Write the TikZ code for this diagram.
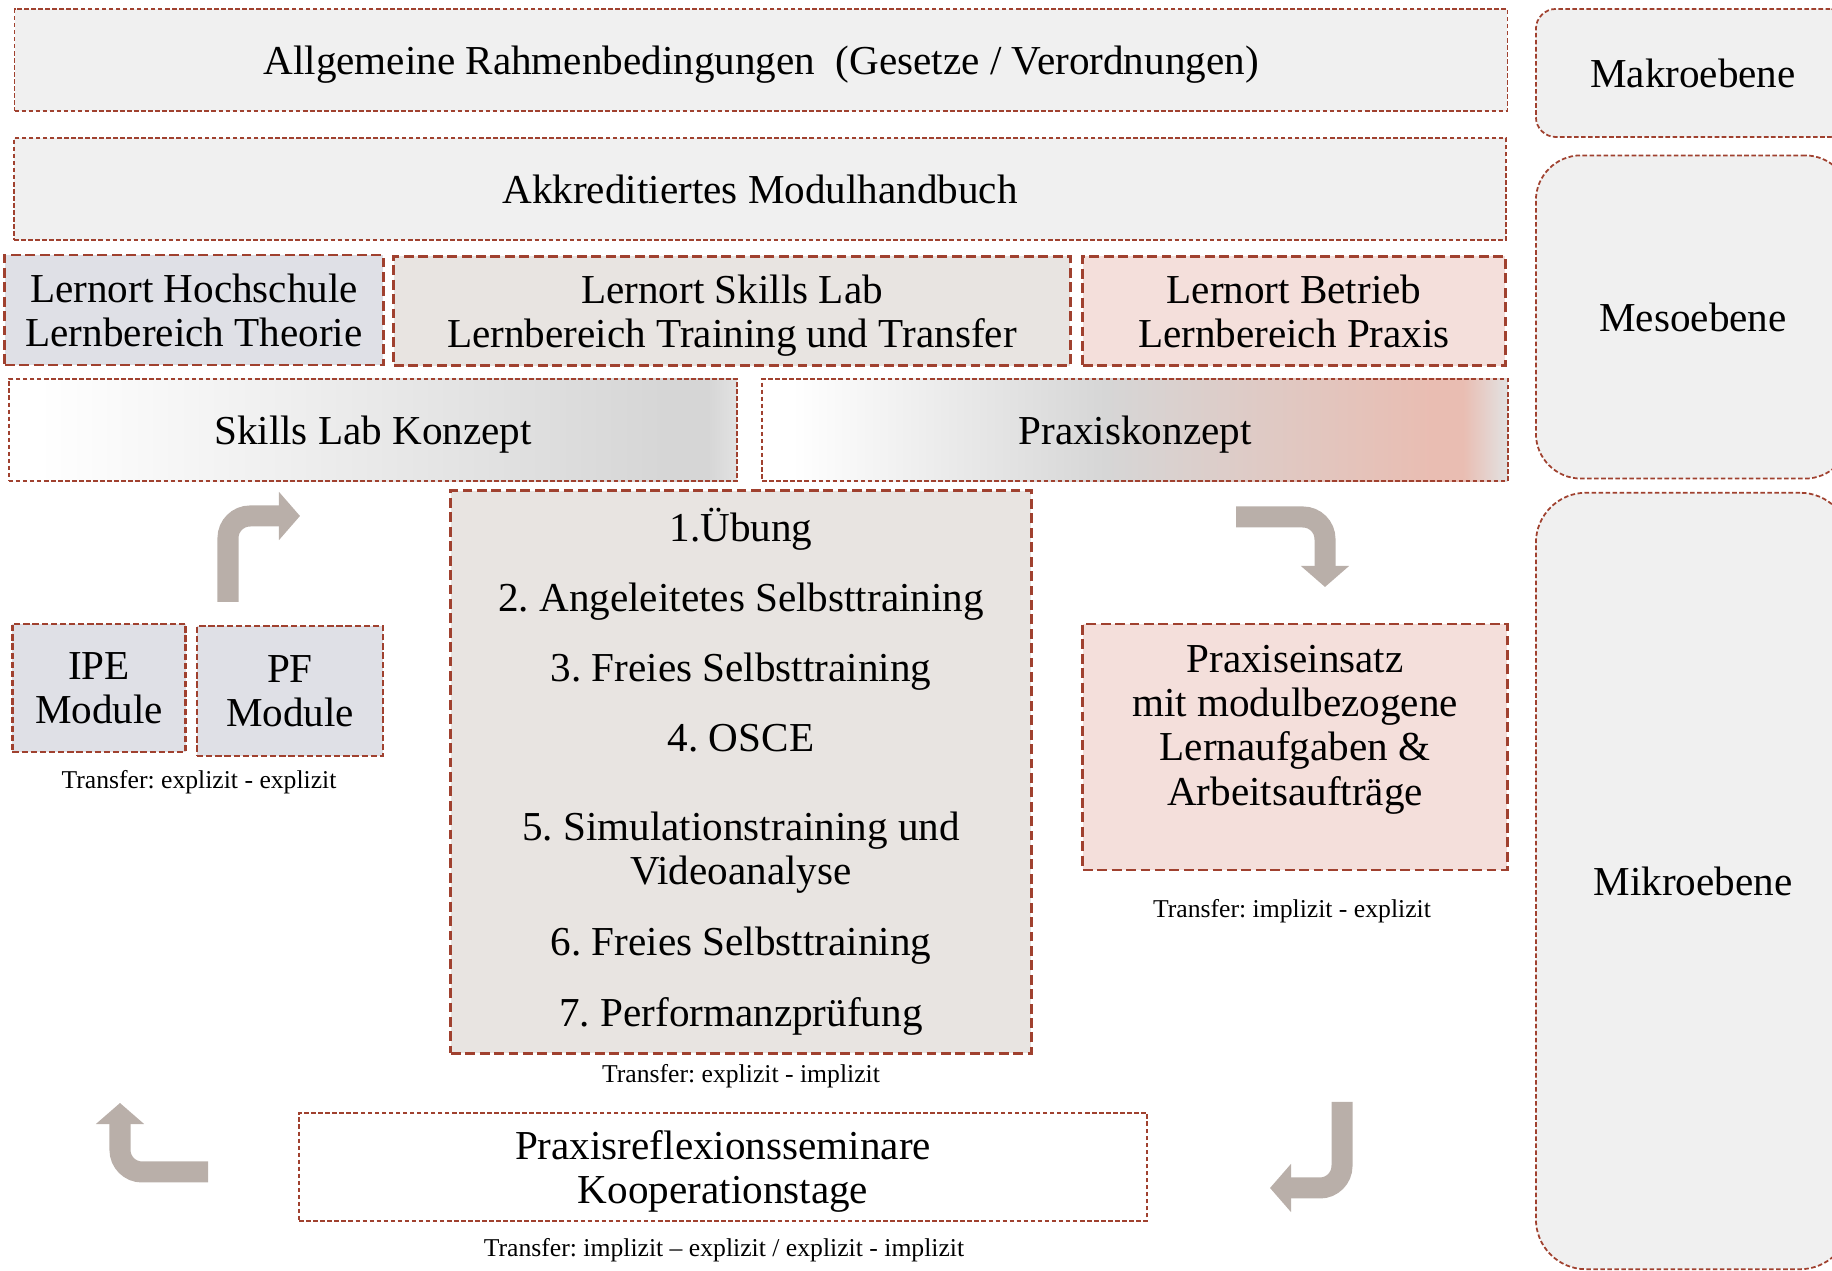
\documentclass[tikz,border=0pt]{standalone}
\usepackage{fontspec}
\setmainfont{Liberation Serif}
\usepackage{tikz}
\usetikzlibrary{arrows.meta}
\frenchspacing
\definecolor{rahmenrot}{HTML}{A0412F}
\definecolor{hellgrau}{HTML}{F0F0F0}
\definecolor{blaugrau}{HTML}{DFE0E6}
\definecolor{warmgrau}{HTML}{E8E4E1}
\definecolor{rosa}{HTML}{F4DFDB}
\definecolor{pfeilgrau}{HTML}{B9AFA9}
\definecolor{verlaufgrau}{HTML}{D6D6D6}
\definecolor{verlaufhell}{HTML}{E2E2E2}
\definecolor{verlaufrosa}{HTML}{E9BDB2}
\pgfdeclarehorizontalshading{skillsverlauf}{100bp}{color(0bp)=(white); color(27bp)=(white); color(70bp)=(verlaufgrau); color(73bp)=(verlaufgrau); color(75bp)=(verlaufhell); color(100bp)=(verlaufhell)}
\pgfdeclarehorizontalshading{praxisverlauf}{100bp}{color(0bp)=(white); color(27bp)=(white); color(48bp)=(verlaufgrau); color(70bp)=(verlaufrosa); color(72bp)=(verlaufrosa); color(75bp)=(verlaufhell); color(100bp)=(verlaufhell)}

\begin{document}
\begin{tikzpicture}[x=0.01cm,y=-0.01cm,font=\fontsize{11.7}{12.6}\selectfont,
    dunnbox/.style={draw=rahmenrot,line width=0.5pt,dash pattern=on 1.3pt off 0.7pt,align=center,inner sep=0pt,text depth=0pt},
    dickbox/.style={draw=rahmenrot,line width=0.8pt,dash pattern=on 2.8pt off 1.3pt,align=center,inner sep=0pt,text depth=0pt},
    ebene/.style={dunnbox,fill=hellgrau,minimum width=3.14cm},
    transfer/.style={font=\fontsize{7.3}{8.8}\selectfont,text depth=0pt},
    bigarrow/.style={draw=pfeilgrau,line width=0.21cm,rounded corners=0.22cm,-{Triangle[length=0.21cm,width=0.47cm]}}]
    \useasboundingbox (0,0) rectangle (1832,1271);
    \clip (0,0) rectangle (1832,1271);

    \node[dunnbox,fill=hellgrau,minimum width=14.92cm,minimum height=1.02cm] (rahmen) at (761,60) {Allgemeine Rahmenbedingungen\ \ (Gesetze / Verordnungen)};
    \node[dunnbox,fill=hellgrau,minimum width=14.91cm,minimum height=1.02cm] (modul) at (760,189) {Akkreditiertes Modulhandbuch};

    \node[dickbox,fill=blaugrau,minimum width=3.78cm,minimum height=1.10cm] (hochschule) at (194,310) {Lernort Hochschule\\Lernbereich Theorie};
    \node[dickbox,fill=warmgrau,minimum width=6.76cm,minimum height=1.09cm] (skillslab) at (732,311) {Lernort Skills Lab\\Lernbereich Training und Transfer};
    \node[dickbox,fill=rosa,minimum width=4.22cm,minimum height=1.09cm] (betrieb) at (1294,311) {Lernort Betrieb\\Lernbereich Praxis};

    \node[dunnbox,shading=skillsverlauf,minimum width=7.28cm,minimum height=1.02cm] (slkonzept) at (373,430) {Skills Lab Konzept};
    \node[dunnbox,shading=praxisverlauf,minimum width=7.45cm,minimum height=1.02cm] (pkonzept) at (1135,430) {Praxiskonzept};

    \node[dickbox,text depth=2.5pt,fill=warmgrau,minimum width=5.80cm,minimum height=5.62cm] (ablauf) at (741,772) {1.Übung\\[7.3pt]2. Angeleitetes Selbsttraining\\[7.3pt]3. Freies Selbsttraining\\[7.3pt]4. OSCE\\[12.7pt]5. Simulationstraining und\\Videoanalyse\\[7.6pt]6. Freies Selbsttraining\\[7.6pt]7. Performanzprüfung};
    \node[transfer] (t2) at (741,1073) {Transfer: explizit - implizit};

    \node[dunnbox,line width=0.6pt,dash pattern=on 1.8pt off 0.8pt,fill=blaugrau,minimum width=1.73cm,minimum height=1.28cm] (ipe) at (99,688) {IPE\\Module};
    \node[dunnbox,line width=0.6pt,dash pattern=on 1.8pt off 0.8pt,fill=blaugrau,minimum width=1.86cm,minimum height=1.30cm] (pf) at (290,691) {PF\\Module};
    \node[transfer] (t1) at (199,779) {Transfer: explizit - explizit};

    \node[dickbox,fill=rosa,minimum width=4.24cm,minimum height=2.46cm] (einsatz) at (1295,747) {};
    \node[align=center,text depth=0pt] (einsatztext) at (1295,725) {Praxiseinsatz\\mit modulbezogene\\Lernaufgaben \&\\Arbeitsaufträge};
    \node[transfer] (t3) at (1292,908) {Transfer: implizit - explizit};

    \node[dunnbox,fill=white,minimum width=8.47cm,minimum height=1.08cm] (reflexion) at (723,1167) {Praxisreflexionsseminare\\Kooperationstage};
    \node[transfer] (t4) at (724,1247) {Transfer: implizit -- explizit / explizit - implizit};

    \node[ebene,rounded corners=0.2cm,minimum height=1.28cm] (makro) at (1693,73) {Makroebene};
    \node[ebene,rounded corners=0.45cm,minimum height=3.23cm] (meso) at (1693,317) {Mesoebene};
    \node[ebene,rounded corners=0.5cm,minimum height=7.76cm] (mikro) at (1693,881) {Mikroebene};

    \coordinate (p1) at (228,602);
    \coordinate (p1e) at (300,516);
    \coordinate (p2) at (1236,517);
    \coordinate (p2e) at (1325,587);
    \coordinate (p3) at (1342,1102);
    \coordinate (p3e) at (1270,1188);
    \coordinate (p4) at (208,1172);
    \coordinate (p4e) at (120,1103);
    \draw[bigarrow] (p1) |- (p1e);
    \draw[bigarrow] (p2) -| (p2e);
    \draw[bigarrow] (p3) |- (p3e);
    \draw[bigarrow] (p4) -| (p4e);
\end{tikzpicture}
\end{document}
